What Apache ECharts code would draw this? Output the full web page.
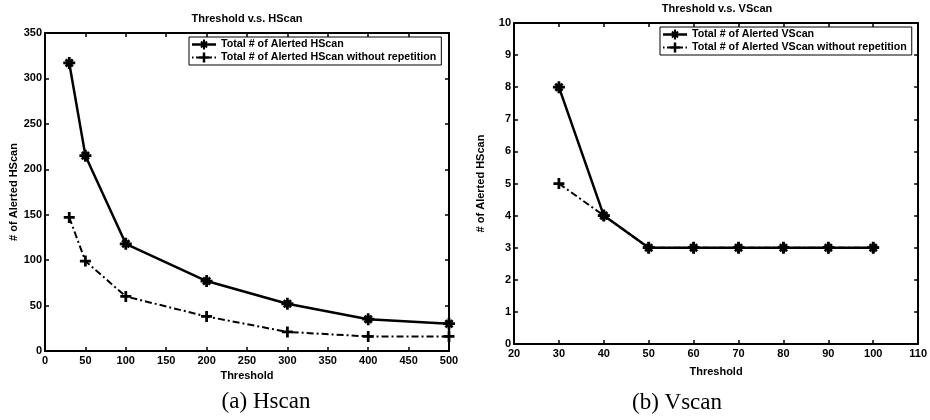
<!DOCTYPE html>
<html>
<head>
<meta charset="utf-8">
<script src="https://cdn.jsdelivr.net/npm/echarts@6/dist/echarts.min.js"></script>
<style>
  html, body { margin: 0; padding: 0; background: #fff; }
  #chart { width: 930px; height: 420px; }
</style>
</head>
<body>
<div id="chart"></div>
<script>
// Hscan panel
var hThresholds = [30, 50, 100, 200, 300, 400, 500];
var hTotal = [317, 215, 118, 77, 52, 35, 30];
var hUnique = [147, 99, 60, 38, 21, 16, 16];
// Vscan panel
var vThresholds = [30, 40, 50, 60, 70, 80, 90, 100];
var vTotal = [8, 4, 3, 3, 3, 3, 3, 3];
var vUnique = [5, 4, 3, 3, 3, 3, 3, 3];

var hNames = ['Total # of Alerted HScan', 'Total # of Alerted HScan without repetition'];
var vNames = ['Total # of Alerted VScan', 'Total # of Alerted VScan without repetition'];

var FONT = '"Liberation Sans", Arial, Helvetica, sans-serif';
// matlab style '*' and '+' markers
var STAR = 'path://M0 7.7L20 7.7L20 12.3L0 12.3Z M7.7 0L12.3 0L12.3 20L7.7 20Z M5.6 2.4L17.6 14.4L14.4 17.6L2.4 5.6Z M17.6 5.6L5.6 17.6L2.4 14.4L14.4 2.4Z';
var PLUS = 'path://M7.5 0L12.5 0L12.5 7.5L20 7.5L20 12.5L12.5 12.5L12.5 20L7.5 20L7.5 12.5L0 12.5L0 7.5L7.5 7.5Z';
// legend samples: line + marker in a 24x10 box
var STAR_ICON = 'path://M0 3.8L24 3.8L24 6.2L0 6.2Z M7 4L17 4L17 6L7 6Z M11 0L13 0L13 10L11 10Z M9.705 1.295L15.705 7.295L14.295 8.705L8.295 2.705Z M15.705 2.705L9.705 8.705L8.295 7.295L14.295 1.295Z';
var PLUS_ICON = 'path://M0 4L1.5 4L1.5 6L0 6Z M4 4L8.5 4L8.5 6L4 6Z M15.5 4L20 4L20 6L15.5 6Z M22.5 4L24 4L24 6L22.5 6Z M10.75 0L13.25 0L13.25 3.75L17 3.75L17 6.25L13.25 6.25L13.25 10L10.75 10L10.75 6.25L7 6.25L7 3.75L10.75 3.75Z';

function pairs(xs, ys) {
    return xs.map(function (x, i) { return [x, ys[i]]; });
}

var tickLabel = { fontFamily: FONT, fontWeight: 'bold', fontSize: 11, color: '#000' };

function axis(grid, min, max, interval, position, withLabels, name, nameGap, margin) {
    var a = {
        gridIndex: grid, type: 'value', min: min, max: max, interval: interval,
        position: position,
        axisLine: { show: true, onZero: false, lineStyle: { color: '#000', width: 2 } },
        axisTick: { show: true, inside: true, length: 4, lineStyle: { color: '#000', width: 1.5 } },
        axisLabel: Object.assign({ show: withLabels, margin: margin }, tickLabel),
        splitLine: { show: false }
    };
    if (name) {
        a.name = name;
        a.nameLocation = 'middle';
        a.nameGap = nameGap;
        a.nameTextStyle = tickLabel;
        if (position === 'left') a.nameRotate = 90;
    }
    return a;
}

function legend(names, left, top) {
    return {
        data: [{ name: names[0], icon: STAR_ICON }, { name: names[1], icon: PLUS_ICON }],
        orient: 'vertical', left: left, top: top,
        itemWidth: 24, itemHeight: 10, itemGap: 2, padding: [2, 5, 2, 3],
        borderColor: '#000', borderWidth: 1, backgroundColor: '#fff',
        selectedMode: false,
        itemStyle: { color: '#000', borderWidth: 0 },
        lineStyle: { width: 0 },
        textStyle: Object.assign({}, tickLabel, { fontSize: 10.7 })
    };
}

function line(name, xi, yi, data, symbol, size, dash, width) {
    return {
        name: name, type: 'line', xAxisIndex: xi, yAxisIndex: yi, data: data,
        symbol: symbol, symbolSize: size, clip: false,
        lineStyle: { color: '#000', width: width, type: dash },
        itemStyle: { color: '#000' }
    };
}

function text(str, x, y, font) {
    return {
        type: 'text', x: x, y: y,
        style: { text: str, font: font, fill: '#000', align: 'center', verticalAlign: 'middle', textAlign: 'center', textVerticalAlign: 'middle' }
    };
}

var chart = echarts.init(document.getElementById('chart'));
chart.setOption({
    animation: false,
    grid: [
        { left: 45, top: 33, width: 404, height: 318 },
        { left: 514, top: 23, width: 406, height: 321 }
    ],
    xAxis: [
        axis(0, 0, 500, 50, 'bottom', true, 'Threshold', 15, 4),
        axis(0, 0, 500, 50, 'top', false),
        axis(1, 20, 110, 10, 'bottom', true, 'Threshold', 22, 4),
        axis(1, 20, 110, 10, 'top', false)
    ],
    yAxis: [
        axis(0, 0, 350, 50, 'left', true, '# of Alerted HScan', 25, 3),
        axis(0, 0, 350, 50, 'right', false),
        axis(1, 0, 10, 1, 'left', true, '# of Alerted HScan', 28, 3),
        axis(1, 0, 10, 1, 'right', false)
    ],
    legend: [legend(hNames, 189, 37), legend(vNames, 660, 27)],
    series: [
        line(hNames[0], 0, 0, pairs(hThresholds, hTotal), STAR, 12, 'solid', 2.5),
        line(hNames[1], 0, 0, pairs(hThresholds, hUnique), PLUS, 11, [7, 3, 2, 3], 2),
        line(vNames[0], 2, 2, pairs(vThresholds, vTotal), STAR, 12, 'solid', 2.5),
        line(vNames[1], 2, 2, pairs(vThresholds, vUnique), PLUS, 11, [7, 3, 2, 3], 2)
    ],
    graphic: [
        text('Threshold v.s. HScan', 247, 19, 'bold 11px ' + FONT),
        text('Threshold v.s. VScan', 717, 9, 'bold 11px ' + FONT),
        text('(a) Hscan', 266, 402, '23px "Liberation Serif", "Times New Roman", serif'),
        text('(b) Vscan', 677, 403, '23px "Liberation Serif", "Times New Roman", serif')
    ]
});
</script>
</body>
</html>
